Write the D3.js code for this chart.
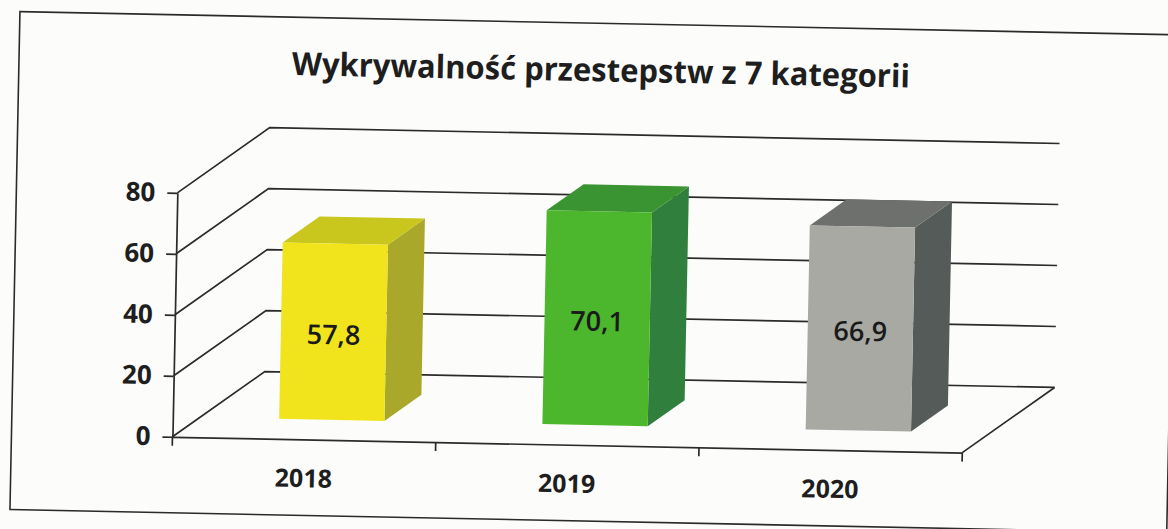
<!DOCTYPE html>
<html>
<head>
<meta charset="utf-8">
<script src="https://cdn.jsdelivr.net/npm/d3@7"></script>
<style>
  html, body { margin: 0; padding: 0; background: #fcfcfb; }
  svg { display: block; }
</style>
</head>
<body>
<div id="chart"></div>
<script>
// Wykrywalność przestępstw - 3D column chart, scanned look (slightly tilted)

const years  = ["2018", "2019", "2020"];
const values = [57.8, 70.1, 66.9];
const yTicks = [0, 20, 40, 60, 80];
const title  = "Wykrywalność przestepstw z 7 kategorii";

const frontColors = ["#f1e41c", "#4cb62c", "#a7a9a2"];
const topColors   = ["#c9c61e", "#3b9432", "#6d706c"];
const sideColors  = ["#a9a82a", "#317f3d", "#545b58"];

const W = 1168, H = 529;
const depth = [91, -67];          // floor depth offset (front -> back wall)
const f0 = 0.3, f1 = 0.7;         // bar sits in the middle of the depth
const lineCol = "#2b2b2b";
const font = "'Open Sans', 'Noto Sans', sans-serif";

const fmt = d3.formatLocale({ decimal: ",", thousands: " ", grouping: [3], currency: ["", ""] }).format(".1f");

const svg = d3.select("#chart").append("svg")
  .attr("width", W).attr("height", H);

const g = svg.append("g").attr("transform", "rotate(1.15, 584, 264)");

const x = d3.scaleBand().domain(years).range([176, 966]).paddingInner(0).paddingOuter(0);
const y = d3.scaleLinear().domain([0, 80]).range([445, 201]);
const barW = x.bandwidth() / 2.5;

// outer border
g.append("rect")
  .attr("x", 15).attr("y", 23).attr("width", 1157).attr("height", 498)
  .attr("fill", "none").attr("stroke", lineCol).attr("stroke-width", 1.6);

// title
g.append("text")
  .attr("x", 597).attr("y", 81)
  .attr("text-anchor", "middle")
  .attr("font-family", font).attr("font-weight", 700).attr("font-size", 32)
  .attr("fill", "#1e1e1e")
  .attr("textLength", 618).attr("lengthAdjust", "spacingAndGlyphs")
  .text(title);

const x0 = x.range()[0], x1 = x.range()[1];

// left wall gridlines (diagonals) and back wall gridlines
const grid = g.append("g").attr("stroke", lineCol).attr("stroke-width", 1.7).attr("fill", "none");
yTicks.forEach(t => {
  const yy = y(t);
  grid.append("path")
    .attr("d", `M${x0},${yy}L${x0 + depth[0]},${yy + depth[1]}L${x1 + depth[0]},${yy + depth[1]}`);
});

// floor right edge
grid.append("line")
  .attr("x1", x1).attr("y1", y(0))
  .attr("x2", x1 + depth[0]).attr("y2", y(0) + depth[1]);

// bars
const bars = g.append("g");
years.forEach((yr, i) => {
  const bx = x(yr) + (x.bandwidth() - barW) / 2 + f0 * depth[0];
  const by = y(0) + f0 * depth[1];
  const h = y(0) - y(values[i]);
  const top = by - h;
  const dx = (f1 - f0) * depth[0], dy = (f1 - f0) * depth[1];

  // side face
  bars.append("path")
    .attr("d", `M${bx + barW},${by}L${bx + barW + dx},${by + dy}L${bx + barW + dx},${top + dy}L${bx + barW},${top}Z`)
    .attr("fill", sideColors[i]);
  // top face
  bars.append("path")
    .attr("d", `M${bx},${top}L${bx + dx},${top + dy}L${bx + barW + dx},${top + dy}L${bx + barW},${top}Z`)
    .attr("fill", topColors[i]);
  // front face
  bars.append("rect")
    .attr("x", bx).attr("y", top).attr("width", barW).attr("height", h)
    .attr("fill", frontColors[i]);

  // value label
  bars.append("text")
    .attr("x", bx + barW / 2).attr("y", top + h / 2 + 3)
    .attr("dy", "0.35em")
    .attr("text-anchor", "middle")
    .attr("font-family", font).attr("font-weight", 600).attr("font-size", 27)
    .attr("fill", "#1a1a1a")
    .text(fmt(values[i]));
});

// value axis (front-left edge)
const yAxis = g.append("g")
  .attr("transform", `translate(${x0},0)`)
  .call(d3.axisLeft(y).tickValues(yTicks).tickSize(10).tickSizeOuter(0).tickPadding(12).tickFormat(d3.format("d")));
yAxis.select(".domain").attr("stroke", lineCol).attr("stroke-width", 1.7);
yAxis.selectAll(".tick line").attr("stroke", lineCol).attr("stroke-width", 1.7);
yAxis.selectAll(".tick text")
  .attr("font-family", font).attr("font-weight", 700).attr("font-size", 26).attr("fill", "#1e1e1e");

// category axis (front floor edge)
const xAxis = g.append("g")
  .attr("transform", `translate(0,${y(0)})`)
  .call(d3.axisBottom(x).tickSize(0).tickPadding(30));
xAxis.select(".domain").attr("stroke", lineCol).attr("stroke-width", 1.7);
xAxis.selectAll(".tick text")
  .attr("font-family", font).attr("font-weight", 700).attr("font-size", 25).attr("fill", "#1e1e1e");

// category boundary ticks
const bounds = years.map(d => x(d)).concat([x1]);
g.append("g").selectAll("line").data(bounds).join("line")
  .attr("x1", d => d).attr("x2", d => d)
  .attr("y1", y(0)).attr("y2", y(0) + 9)
  .attr("stroke", lineCol).attr("stroke-width", 1.7);
</script>
</body>
</html>
